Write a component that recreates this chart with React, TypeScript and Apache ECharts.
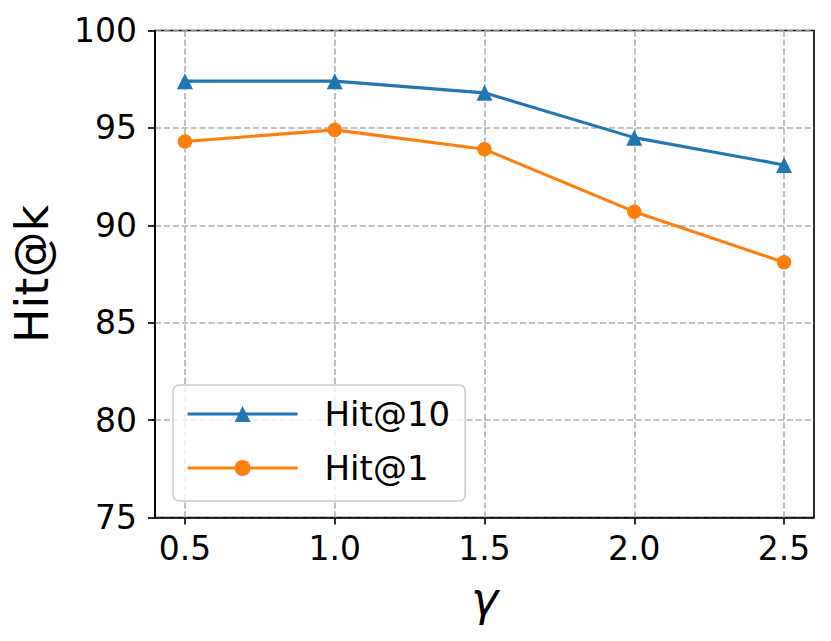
import React, { useEffect, useRef } from "react";
import * as echarts from "echarts";

const gammaValues = [0.5, 1.0, 1.5, 2.0, 2.5];
const hit10 = [97.4, 97.4, 96.8, 94.5, 93.1];
const hit1 = [94.3, 94.9, 93.9, 90.7, 88.1];
const xTicks = [0.5, 1.0, 1.5, 2.0, 2.5];
const seriesNames = ["Hit@10", "Hit@1"];

const FONT = "DejaVu Sans";
const GRID_COLOR = "#b0b0b0";
const DASH = [6.2, 2.7];

export default function App() {
  const ref = useRef<HTMLDivElement>(null);
  useEffect(() => {
    if (!ref.current) return;
    const chart = echarts.init(ref.current, null, { renderer: "svg" });
    const option: any = {
      animation: false,
      backgroundColor: "#ffffff",
      textStyle: { fontFamily: FONT },
      grid: {
        left: 155,
        right: 17,
        top: 30.5,
        bottom: 123.5,
        show: true,
        borderColor: "#000",
        borderWidth: 1.66,
        backgroundColor: "transparent",
      },
      legend: {
        orient: "vertical",
        left: 173,
        top: 385,
        itemWidth: 110,
        itemHeight: 20,
        itemGap: 20,
        padding: [12, 15, 16, 13],
        backgroundColor: "rgba(255,255,255,0.8)",
        borderColor: "#cccccc",
        borderWidth: 1.6,
        borderRadius: 6,
        lineStyle: { width: 3.1 },
        textStyle: {
          fontFamily: FONT,
          fontSize: 34,
          color: "#000",
          padding: [0, 0, 0, 22],
          lineHeight: 33,
        },
        data: seriesNames,
      },
      xAxis: {
        type: "value",
        min: 0.4,
        max: 2.6,
        name: "γ",
        nameLocation: "middle",
        nameGap: 58,
        nameTextStyle: {
          fontFamily: FONT,
          fontSize: 46,
          fontStyle: "italic",
          color: "#000",
        },
        axisLine: { show: true, lineStyle: { color: "#000", width: 1.66 } },
        axisTick: {
          show: true,
          length: 7,
          lineStyle: { color: "#000", width: 1.66 },
          customValues: xTicks,
        },
        axisLabel: {
          fontFamily: FONT,
          fontSize: 33,
          color: "#000",
          margin: 14,
          customValues: xTicks,
          formatter: (v: number) => v.toFixed(1),
        },
        splitLine: { show: false },
      },
      yAxis: {
        type: "value",
        min: 75,
        max: 100,
        interval: 5,
        name: "Hit@k",
        nameLocation: "middle",
        nameGap: 100,
        nameRotate: 90,
        nameTextStyle: { fontFamily: FONT, fontSize: 46, color: "#000" },
        axisLine: { show: true, lineStyle: { color: "#000", width: 1.66 } },
        axisTick: { show: true, length: 7, lineStyle: { color: "#000", width: 1.66 } },
        axisLabel: { fontFamily: FONT, fontSize: 33, color: "#000", margin: 18 },
        splitLine: { show: true, lineStyle: { color: GRID_COLOR, width: 1.6, type: DASH } },
      },
      series: [
        {
          name: seriesNames[0],
          type: "line",
          data: gammaValues.map((g, i) => [g, hit10[i]]),
          symbol: "triangle",
          symbolSize: 16,
          color: "#1f77b4",
          lineStyle: { width: 3.1, color: "#1f77b4" },
          itemStyle: { color: "#1f77b4" },
          z: 3,
        },
        {
          name: seriesNames[1],
          type: "line",
          data: gammaValues.map((g, i) => [g, hit1[i]]),
          symbol: "circle",
          symbolSize: 14.5,
          color: "#ff7f0e",
          lineStyle: { width: 3.1, color: "#ff7f0e" },
          itemStyle: { color: "#ff7f0e" },
          z: 3,
          markLine: {
            silent: true,
            symbol: ["none", "none"],
            z: 1,
            label: { show: false },
            lineStyle: { color: GRID_COLOR, width: 1.6, type: DASH },
            emphasis: { disabled: true },
            data: xTicks.map((t) => ({ xAxis: t })),
          },
        },
      ],
    };
    chart.setOption(option);
    return () => chart.dispose();
  }, []);
  return (
    <div
      ref={ref}
      style={{ position: "fixed", left: 0, top: 0, width: 831, height: 641 }}
    />
  );
}
